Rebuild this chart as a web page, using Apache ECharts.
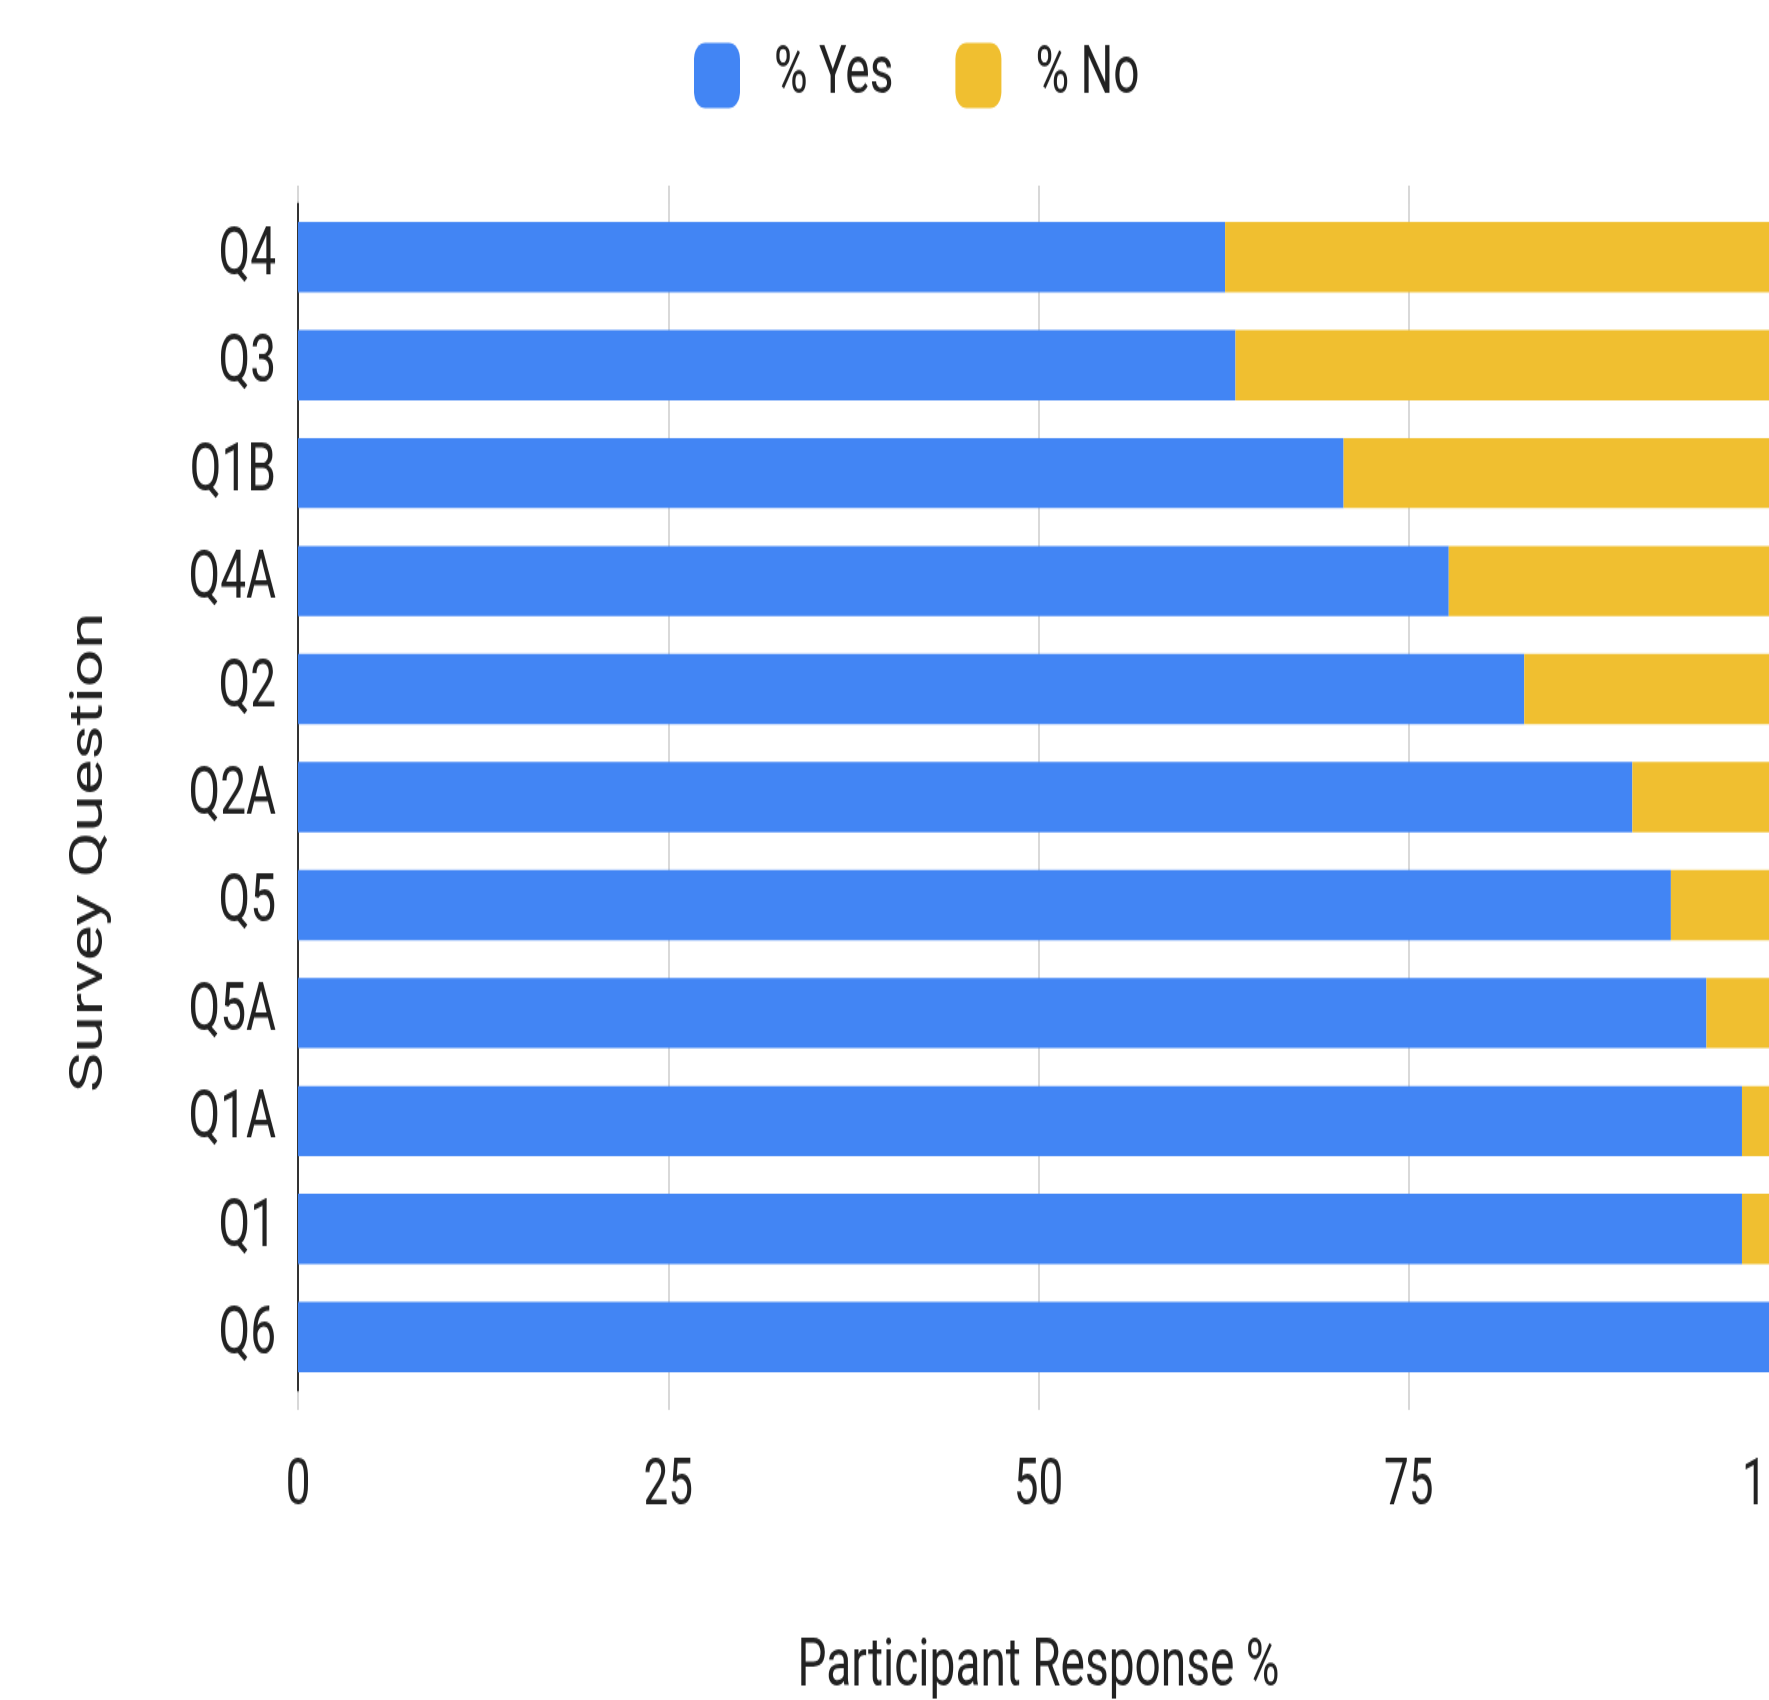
<!DOCTYPE html>
<html>
<head>
<meta charset="utf-8">
<title>Survey responses</title>
<script src="https://cdn.jsdelivr.net/npm/echarts@6/dist/echarts.min.js"></script>
<style>
  html, body { margin: 0; padding: 0; background: #ffffff; }
  #frame { width: 1769px; height: 1700px; overflow: hidden; position: relative; background: #ffffff; }
  /* the chart is laid out on a shorter canvas and stretched vertically to fill the frame */
  #chart { width: 1769px; height: 1172px; transform-origin: 0 0; transform: scaleY(1.450512); }
</style>
</head>
<body>
<div id="frame"><div id="chart"></div></div>
<script>
// Survey questions, top to bottom
const questions = ['Q4', 'Q3', 'Q1B', 'Q4A', 'Q2', 'Q2A', 'Q5', 'Q5A', 'Q1A', 'Q1', 'Q6'];
// Share of participants answering yes / no (percent)
const yesPct = [62.6, 63.3, 70.6, 77.7, 82.8, 90.1, 92.7, 95.1, 97.5, 97.5, 100];
const noPct  = [37.4, 36.7, 29.4, 22.3, 17.2, 9.9, 7.3, 4.9, 2.5, 2.5, 0];
// Response-scale ticks
const xTicks = [0, 25, 50, 75, 100];

const seriesNames = ['% Yes', '% No'];
const seriesColors = ['#4285f4', '#f0bf30'];

const FONT = 'Roboto, "Noto Sans", sans-serif';
const TEXT = '#222222';
const GRIDLINE = '#cccccc';

const chart = echarts.init(document.getElementById('chart'), null, { renderer: 'canvas' });

const tickStep = xTicks[1] - xTicks[0];

chart.setOption({
  backgroundColor: '#ffffff',
  animation: false,
  textStyle: { fontFamily: FONT },
  legend: {
    data: seriesNames,
    left: 694,
    top: 29,
    padding: 0,
    itemGap: 62,
    itemWidth: 46,
    itemHeight: 45,
    icon: 'roundRect',
    itemStyle: { borderRadius: 5 },
    textStyle: {
      fontFamily: FONT,
      fontSize: 46,
      lineHeight: 46,
      color: TEXT,
      padding: [0, 0, 0, 29]
    }
  },
  grid: {
    left: 298,
    right: -10,
    top: 140,
    bottom: 213,
    containLabel: false,
    outerBoundsMode: 'none'
  },
  xAxis: [
    {
      type: 'value',
      position: 'bottom',
      min: xTicks[0],
      max: xTicks[xTicks.length - 1],
      interval: tickStep,
      axisLine: { show: false },
      axisTick: { show: true, length: 13, lineStyle: { color: GRIDLINE, width: 1.5 } },
      splitLine: { show: true, lineStyle: { color: GRIDLINE, width: 1.5 } },
      axisLabel: {
        fontFamily: FONT,
        fontSize: 44,
        lineHeight: 44,
        color: TEXT,
        margin: 45
      },
      name: 'Participant Response %',
      nameLocation: 'middle',
      nameGap: 168,
      nameTextStyle: { fontFamily: FONT, fontSize: 46, lineHeight: 46, color: TEXT }
    },
    {
      type: 'value',
      position: 'top',
      min: xTicks[0],
      max: xTicks[xTicks.length - 1],
      interval: tickStep,
      axisLine: { show: false },
      axisTick: { show: true, length: 12, lineStyle: { color: GRIDLINE, width: 1.5 } },
      splitLine: { show: false },
      axisLabel: { show: false }
    }
  ],
  yAxis: {
    type: 'category',
    data: questions,
    inverse: true,
    axisLine: { show: true, lineStyle: { color: '#333333', width: 2 } },
    axisTick: { show: false },
    splitLine: { show: false },
    axisLabel: {
      fontFamily: FONT,
      fontSize: 46,
      lineHeight: 46,
      color: TEXT,
      margin: 22
    },
    name: 'Survey Question',
    nameLocation: 'middle',
    nameGap: 185,
    nameTextStyle: {
      fontFamily: FONT,
      fontSize: 46,
      lineHeight: 46,
      color: TEXT,
      padding: [0, 76, 0, 0]
    }
  },
  series: [
    {
      name: seriesNames[0],
      type: 'bar',
      stack: 'response',
      xAxisIndex: 0,
      barCategoryGap: '35%',
      itemStyle: { color: seriesColors[0] },
      data: yesPct
    },
    {
      name: seriesNames[1],
      type: 'bar',
      stack: 'response',
      xAxisIndex: 0,
      barCategoryGap: '35%',
      itemStyle: { color: seriesColors[1] },
      data: noPct
    }
  ]
});
</script>
</body>
</html>
